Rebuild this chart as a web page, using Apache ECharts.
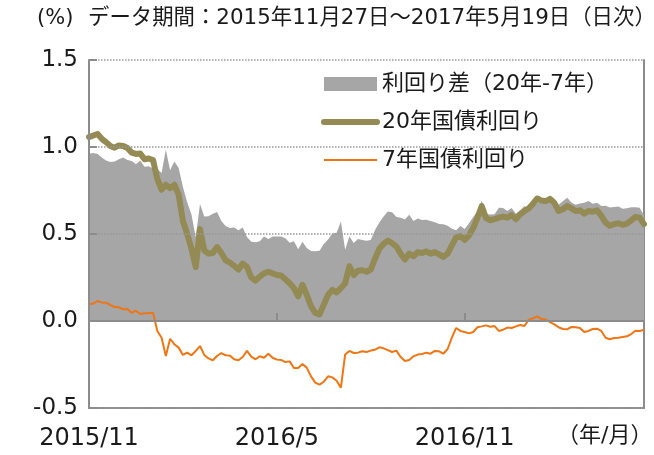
<!DOCTYPE html>
<html>
<head>
<meta charset="utf-8">
<script src="https://cdn.jsdelivr.net/npm/echarts@6/dist/echarts.min.js"></script>
<style>
  html, body { margin: 0; padding: 0; background: #fff; }
  #chart { width: 654px; height: 455px; }
</style>
</head>
<body>
<div id="chart"></div>
<script>
// 20年国債利回り (sampled every ~3 business days, 2015/11/27 - 2017/5/19)
var jgb20 = [
  1.057, 1.066, 1.075, 1.047, 1.028, 1.006, 0.996, 1.009, 1.006, 0.994,
  0.968, 0.960, 0.962, 0.930, 0.934, 0.925, 0.817, 0.755, 0.783, 0.764,
  0.783, 0.726, 0.575, 0.500, 0.415, 0.310, 0.528, 0.406, 0.387, 0.391,
  0.425, 0.391, 0.349, 0.336, 0.317, 0.296, 0.330, 0.311, 0.251, 0.232,
  0.255, 0.274, 0.283, 0.274, 0.264, 0.262, 0.240, 0.217, 0.189, 0.142,
  0.208, 0.151, 0.085, 0.047, 0.038, 0.094, 0.151, 0.179, 0.164, 0.189,
  0.217, 0.315, 0.264, 0.289, 0.292, 0.283, 0.296, 0.358, 0.415, 0.443,
  0.462, 0.447, 0.428, 0.387, 0.353, 0.387, 0.372, 0.396, 0.391, 0.400,
  0.387, 0.396, 0.383, 0.368, 0.387, 0.434, 0.481, 0.489, 0.466, 0.491,
  0.534, 0.594, 0.660, 0.591, 0.579, 0.585, 0.594, 0.600, 0.594, 0.609,
  0.585, 0.613, 0.632, 0.647, 0.674, 0.704, 0.692, 0.689, 0.702, 0.679,
  0.632, 0.642, 0.660, 0.647, 0.632, 0.636, 0.617, 0.632, 0.628, 0.636,
  0.604, 0.566, 0.547, 0.557, 0.562, 0.553, 0.560, 0.579, 0.598, 0.594,
  0.557
];

// 7年国債利回り
var jgb7 = [
  0.096, 0.100, 0.115, 0.107, 0.105, 0.092, 0.080, 0.079, 0.067, 0.069,
  0.048, 0.059, 0.040, 0.044, 0.044, 0.048, -0.057, -0.096, -0.201, -0.102,
  -0.134, -0.153, -0.195, -0.182, -0.197, -0.172, -0.144, -0.195, -0.215, -0.226,
  -0.201, -0.184, -0.197, -0.199, -0.220, -0.226, -0.207, -0.172, -0.205, -0.220,
  -0.203, -0.211, -0.188, -0.211, -0.222, -0.224, -0.236, -0.232, -0.270, -0.270,
  -0.247, -0.268, -0.318, -0.354, -0.366, -0.349, -0.318, -0.324, -0.343, -0.383,
  -0.192, -0.172, -0.184, -0.182, -0.174, -0.178, -0.170, -0.165, -0.151, -0.157,
  -0.167, -0.178, -0.170, -0.207, -0.230, -0.224, -0.203, -0.193, -0.190, -0.182,
  -0.188, -0.172, -0.174, -0.188, -0.161, -0.096, -0.040, -0.057, -0.063, -0.071,
  -0.063, -0.036, -0.031, -0.025, -0.033, -0.029, -0.057, -0.050, -0.038, -0.040,
  -0.031, -0.023, -0.029, 0.008, 0.015, 0.027, 0.011, 0.008, -0.006, -0.019,
  -0.036, -0.046, -0.048, -0.034, -0.036, -0.040, -0.063, -0.057, -0.046, -0.044,
  -0.057, -0.096, -0.105, -0.098, -0.096, -0.092, -0.088, -0.075, -0.056, -0.057,
  -0.050
];

var xTickLabels = ['2015/11', '2016/5', '2016/11'];
var tickStep = 44; // samples between x ticks
var yTicks = [-0.5, 0, 0.5, 1.0, 1.5];

var names = ['利回り差（20年-7年）', '20年国債利回り', '7年国債利回り'];

// category labels: only tick positions carry text
var categories = jgb20.map(function (v, i) {
  return i % tickStep === 0 ? (xTickLabels[i / tickStep] || '') : '';
});
// spread = 20y - 7y
var spread = jgb20.map(function (v, i) {
  return +(v - jgb7[i]).toFixed(3);
});

var font = '"DejaVu Sans", "Noto Sans CJK JP", sans-serif';
var axisGray = '#8c8c8c';
var ink = '#1a1a1a';

var chart = echarts.init(document.getElementById('chart'));
chart.setOption({
  animation: false,
  textStyle: { fontFamily: font, color: ink },
  grid: { left: 89, right: 10, top: 60, bottom: 47, containLabel: false },
  graphic: [
    { type: 'text', left: 37, top: 8, style: { text: '(%)', font: '21px ' + font, fill: ink } },
    { type: 'text', left: 88, top: 8, style: { text: 'データ期間：2015年11月27日～2017年5月19日（日次）', font: '21.4px ' + font, fill: ink } },
    { type: 'text', left: 557, top: 425, style: { text: '（年/月）', font: '22px ' + font, fill: ink } }
  ],
  legend: {
    orient: 'vertical',
    left: 316,
    top: 66,
    itemWidth: 53,
    itemHeight: 14,
    itemGap: 12,
    textStyle: { fontSize: 22, lineHeight: 26, color: ink, fontFamily: font },
    data: [
      { name: names[0], icon: 'rect' },
      { name: names[1], itemStyle: { opacity: 0 }, lineStyle: { width: 6, cap: 'round' } },
      { name: names[2], itemStyle: { opacity: 0 }, lineStyle: { width: 2 } }
    ]
  },
  xAxis: [
    {
      type: 'category',
      data: categories,
      boundaryGap: false,
      position: 'bottom',
      z: 10,
      axisLine: { onZero: true, lineStyle: { color: axisGray, width: 2 } },
      axisTick: { show: true, inside: true, length: 8, interval: tickStep - 1, lineStyle: { color: axisGray, width: 2 } },
      axisLabel: { show: false },
      splitLine: { show: false }
    },
    {
      type: 'category',
      data: categories,
      boundaryGap: false,
      position: 'bottom',
      axisLine: { onZero: false, lineStyle: { color: axisGray, width: 2 } },
      axisTick: { show: false },
      axisLabel: { show: true, interval: tickStep - 1, margin: 19, fontSize: 24, color: ink, fontFamily: font },
      splitLine: { show: false }
    }
  ],
  yAxis: [
    {
      type: 'value',
      min: yTicks[0],
      max: yTicks[yTicks.length - 1],
      interval: 0.5,
      z: 10,
      axisLine: { show: true, lineStyle: { color: axisGray, width: 2 } },
      axisTick: { show: true, inside: true, length: 8, lineStyle: { color: axisGray, width: 2 } },
      axisLabel: {
        margin: 11, fontSize: 23, color: ink, fontFamily: font,
        formatter: function (v) { return v.toFixed(1); }
      },
      splitLine: { show: true, lineStyle: { color: '#999', type: 'dotted', width: 1.5 } }
    },
    {
      type: 'value',
      min: yTicks[0],
      max: yTicks[yTicks.length - 1],
      interval: 0.5,
      position: 'right',
      axisLine: { show: true, lineStyle: { color: axisGray, width: 2 } },
      axisTick: { show: false },
      axisLabel: { show: false },
      splitLine: { show: false }
    }
  ],
  series: [
    {
      name: names[0],
      type: 'line',
      data: spread,
      showSymbol: false,
      symbol: 'none',
      itemStyle: { color: '#a6a6a6' },
      lineStyle: { width: 0, color: '#a6a6a6' },
      areaStyle: { color: '#a6a6a6', opacity: 1 }
    },
    {
      name: names[1],
      type: 'line',
      data: jgb20,
      showSymbol: false,
      symbol: 'none',
      itemStyle: { color: '#948a54' },
      lineStyle: { width: 6, color: '#948a54', cap: 'round', join: 'round' }
    },
    {
      name: names[2],
      type: 'line',
      data: jgb7,
      showSymbol: false,
      symbol: 'none',
      itemStyle: { color: '#ee7614' },
      lineStyle: { width: 2, color: '#ee7614' }
    }
  ]
});
</script>
</body>
</html>
